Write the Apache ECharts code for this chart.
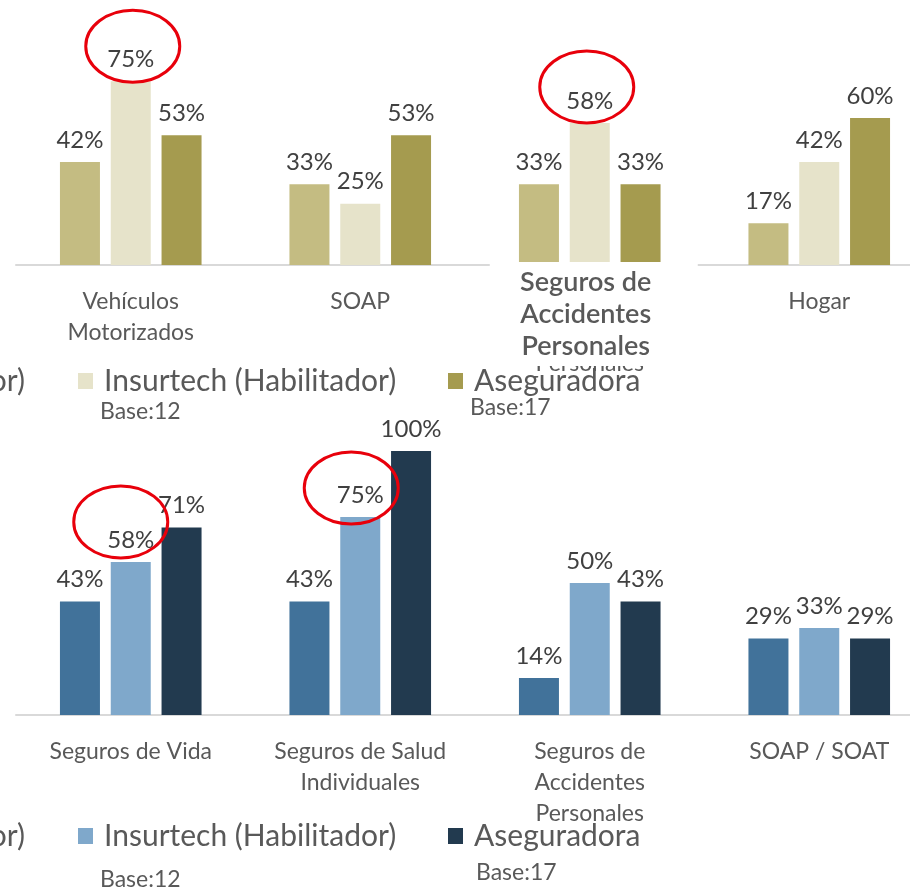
<!DOCTYPE html>
<html>
<head>
<meta charset="utf-8">
<script src="https://cdn.jsdelivr.net/npm/echarts@6/dist/echarts.min.js"></script>
<style>
  html, body { margin: 0; padding: 0; background: #fff; }
  #main { width: 910px; height: 890px; }
</style>
</head>
<body>
<div id="main"></div>
<script>
// categorias y valores (%)
var seriesNames = ['Insurtech (Originador)', 'Insurtech (Habilitador)', 'Aseguradora'];

var catsTop = ['Vehículos\nMotorizados', 'SOAP', 'Seguros de\nAccidentes\nPersonales', 'Hogar'];
var origTop = [42, 33, 33, 17];
var habTop = [75, 25, 58, 42];
var asegTop = [53, 53, 33, 60];

var catsBottom = ['Seguros de Vida', 'Seguros de Salud\nIndividuales', 'Seguros de\nAccidentes\nPersonales', 'SOAP / SOAT'];
var origBottom = [43, 43, 14, 29];
var habBottom = [58, 75, 50, 33];
var asegBottom = [71, 100, 43, 29];

var colorsTop = ['#C4BC82', '#E6E3CA', '#A59B4F'];
var colorsBottom = ['#41729A', '#7FA8CB', '#223A4F'];

// puntos marcados con circulo rojo: [grid, serie, categoria, dx, dy]
var circled = [[0, 1, 0, 2, -35], [0, 1, 2, -3, -36], [1, 1, 0, -10, -40], [1, 1, 1, -9, -29]];

var FONT = 'Lato';
var myChart = echarts.init(document.getElementById('main'));

function makeBar(name, data, color, idx) {
    return {
        type: 'bar',
        name: name,
        data: data,
        xAxisIndex: idx,
        yAxisIndex: idx,
        barWidth: 40,
        barGap: '27%',
        itemStyle: {color: color},
        label: {
            show: true,
            position: 'top',
            distance: 10,
            formatter: '{c}%',
            color: '#404040',
            fontFamily: FONT,
            fontSize: 24
        }
    };
}

function makeLegend(name, color, pos, top, hidden) {
    var lg = {
        data: [{name: name, itemStyle: {color: color}}],
        top: top,
        padding: 0,
        icon: 'rect',
        itemWidth: 15,
        itemHeight: 16,
        selectedMode: false,
        textStyle: {color: '#595959', fontFamily: FONT, fontSize: 30, padding: [0, 0, 0, 6]}
    };
    if (hidden) {
        lg.right = pos;
    } else {
        lg.left = pos;
    }
    return lg;
}

var xAxisCommon = {
    type: 'category',
    axisTick: {show: false},
    axisLine: {lineStyle: {color: '#D9D9D9', width: 2}},
    axisLabel: {
        color: '#595959',
        fontFamily: FONT,
        fontSize: 23,
        lineHeight: 31,
        margin: 21,
        interval: 0
    }
};

var option = {
    animation: false,
    backgroundColor: '#fff',
    grid: [
        {left: 16, width: 918, top: 20, height: 245, outerBoundsMode: 'none'},
        {left: 16, width: 918, top: 451, height: 264, outerBoundsMode: 'none'}
    ],
    xAxis: [
        Object.assign({gridIndex: 0, data: catsTop}, xAxisCommon),
        Object.assign({gridIndex: 1, data: catsBottom}, xAxisCommon)
    ],
    yAxis: [
        {gridIndex: 0, type: 'value', min: 0, max: 100, show: false},
        {gridIndex: 1, type: 'value', min: 0, max: 100, show: false}
    ],
    legend: [
        makeLegend(seriesNames[0], colorsTop[0], 885, 366, true),
        makeLegend(seriesNames[1], colorsTop[1], 78, 366),
        makeLegend(seriesNames[2], colorsTop[2], 448, 366),
        makeLegend(seriesNames[0], colorsBottom[0], 885, 821, true),
        makeLegend(seriesNames[1], colorsBottom[1], 78, 821),
        makeLegend(seriesNames[2], colorsBottom[2], 448, 821)
    ],
    series: [
        makeBar(seriesNames[0], origTop, colorsTop[0], 0),
        makeBar(seriesNames[1], habTop, colorsTop[1], 0),
        makeBar(seriesNames[2], asegTop, colorsTop[2], 0),
        makeBar(seriesNames[0], origBottom, colorsBottom[0], 1),
        makeBar(seriesNames[1], habBottom, colorsBottom[1], 1),
        makeBar(seriesNames[2], asegBottom, colorsBottom[2], 1)
    ]
};

myChart.setOption(option);

// anotaciones: circulos rojos, etiqueta pegada y bases
var graphics = [];
var allData = [[origTop, habTop, asegTop], [origBottom, habBottom, asegBottom]];
var barOffset = [-51, 0, 51];
circled.forEach(function (c) {
    var g = c[0], s = c[1], k = c[2];
    var p = myChart.convertToPixel({gridIndex: g}, [k, allData[g][s][k]]);
    graphics.push({
        type: 'ellipse',
        z: 100,
        shape: {cx: p[0] + barOffset[s] + c[3], cy: p[1] + c[4], rx: 47, ry: 36},
        style: {fill: 'none', stroke: '#E8000B', lineWidth: 3}
    });
});

// etiqueta "Seguros de Accidentes Personales" superpuesta (grafico superior)
var base = myChart.convertToPixel({gridIndex: 0}, [2, 0]);
graphics.push({
    type: 'rect', z: 90,
    shape: {x: base[0] - 100, y: base[1] - 3, width: 208, height: 104},
    style: {fill: '#fff'}
});
graphics.push({
    type: 'text', z: 91,
    x: base[0] - 4, y: base[1] + 1,
    style: {
        text: 'Seguros de\nAccidentes\nPersonales',
        fill: '#595959', font: '600 27px Lato', lineHeight: 32,
        align: 'center', verticalAlign: 'top'
    }
});

var baseTexts = [['Base:12', 100, 412], ['Base:17', 470, 408], ['Base:12', 100, 880], ['Base:17', 476, 873]];
baseTexts.forEach(function (b) {
    graphics.push({
        type: 'text', z: 50, x: b[1], y: b[2],
        style: {text: b[0], fill: '#595959', font: '23px Lato', verticalAlign: 'middle'}
    });
});

myChart.setOption({graphic: graphics});
</script>
</body>
</html>
